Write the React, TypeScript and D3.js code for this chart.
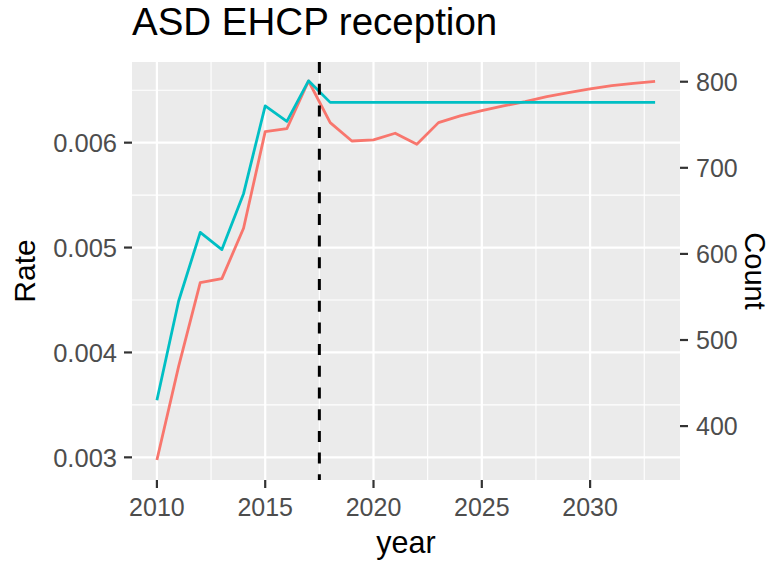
import React from "react";
import * as d3 from "d3";

const years = [2010, 2011, 2012, 2013, 2014, 2015, 2016, 2017, 2018, 2019, 2020, 2021, 2022, 2023, 2024, 2025, 2026, 2027, 2028, 2029, 2030, 2031, 2032, 2033];
const rateValues = [0.002975, 0.003865, 0.004665, 0.004704, 0.005184, 0.006105, 0.006133, 0.006588, 0.006191, 0.006016, 0.006026, 0.00609, 0.005985, 0.006191, 0.006255, 0.006305, 0.00635, 0.006391, 0.006439, 0.006477, 0.006512, 0.006543, 0.006566, 0.006585];
const countValues = [430, 545, 625, 605, 670, 772, 754, 801, 776, 776, 776, 776, 776, 776, 776, 776, 776, 776, 776, 776, 776, 776, 776, 776];
const xTicks = [2010, 2015, 2020, 2025, 2030];
const xMinor = [2012.5, 2017.5, 2022.5, 2027.5, 2032.5];
const rateTicks = [0.003, 0.004, 0.005, 0.006];
const rateMinor = [0.0035, 0.0045, 0.0055, 0.0065];
const countTicks = [400, 500, 600, 700, 800];
const cutoffYear = 2017.5;

const W = 772, H = 563;
const L = 132, R = 680, T = 62, B = 480;
const FONT = "'Liberation Sans', Arial, Helvetica, sans-serif";

export default function App() {
  const x = d3.scaleLinear().domain([2008.85, 2034.15]).range([L, R]);
  const yRate = d3.scaleLinear().domain([0.002784, 0.006769]).range([B, T]);
  const yCount = d3.scaleLinear().domain([337.4, 822.9]).range([B, T]);
  const rateLine = d3.line<number>().x((_, i) => x(years[i])).y((d) => yRate(d));
  const countLine = d3.line<number>().x((_, i) => x(years[i])).y((d) => yCount(d));

  return (
    <svg width={W} height={H} style={{ position: "absolute", left: 0, top: 0, background: "#fff" }} fontFamily={FONT}>
      <rect x={0} y={0} width={W} height={H} fill="#fff" />
      <rect x={L} y={T} width={R - L} height={B - T} fill="#EBEBEB" />
      {rateMinor.map((v) => (
        <line key={"ym" + v} x1={L} x2={R} y1={yRate(v)} y2={yRate(v)} stroke="#fff" strokeWidth={1.1} />
      ))}
      {xMinor.map((v) => (
        <line key={"xm" + v} x1={x(v)} x2={x(v)} y1={T} y2={B} stroke="#fff" strokeWidth={1.1} />
      ))}
      {rateTicks.map((v) => (
        <line key={"yg" + v} x1={L} x2={R} y1={yRate(v)} y2={yRate(v)} stroke="#fff" strokeWidth={2.2} />
      ))}
      {xTicks.map((v) => (
        <line key={"xg" + v} x1={x(v)} x2={x(v)} y1={T} y2={B} stroke="#fff" strokeWidth={2.2} />
      ))}
      <path d={rateLine(rateValues) || ""} fill="none" stroke="#F8766D" strokeWidth={2.8} strokeLinejoin="round" />
      <path d={countLine(countValues) || ""} fill="none" stroke="#00BFC4" strokeWidth={2.8} strokeLinejoin="round" />
      <line x1={x(cutoffYear)} x2={x(cutoffYear)} y1={T} y2={B} stroke="#000" strokeWidth={3} strokeDasharray="11,10.7" />

      {/* left axis */}
      {rateTicks.map((v) => (
        <g key={"yl" + v}>
          <line x1={L - 8} x2={L} y1={yRate(v)} y2={yRate(v)} stroke="#333" strokeWidth={2.2} />
          <text x={L - 15} y={yRate(v)} dy="0.36em" textAnchor="end" fontSize={25.5} fill="#4D4D4D">{d3.format(".3f")(v)}</text>
        </g>
      ))}
      {/* right axis */}
      {countTicks.map((v) => (
        <g key={"yr" + v}>
          <line x1={R} x2={R + 8} y1={yCount(v)} y2={yCount(v)} stroke="#333" strokeWidth={2.2} />
          <text x={R + 16} y={yCount(v)} dy="0.36em" textAnchor="start" fontSize={25} fill="#4D4D4D">{v}</text>
        </g>
      ))}
      {/* bottom axis */}
      {xTicks.map((v) => (
        <g key={"xl" + v}>
          <line x1={x(v)} x2={x(v)} y1={B} y2={B + 8} stroke="#333" strokeWidth={2.2} />
          <text x={x(v)} y={515.5} textAnchor="middle" fontSize={25} fill="#4D4D4D">{v}</text>
        </g>
      ))}
      <text x={(L + R) / 2} y={553} textAnchor="middle" fontSize={30.5} fill="#000">year</text>
      <text transform={`translate(35,${(T + B) / 2}) rotate(-90)`} textAnchor="middle" fontSize={30} fill="#000">Rate</text>
      <text transform={`translate(745,${(T + B) / 2}) rotate(90)`} textAnchor="middle" fontSize={29} fill="#000">Count</text>
      <text x={L} y={35} fontSize={38.5} fill="#000">ASD EHCP reception</text>
    </svg>
  );
}
